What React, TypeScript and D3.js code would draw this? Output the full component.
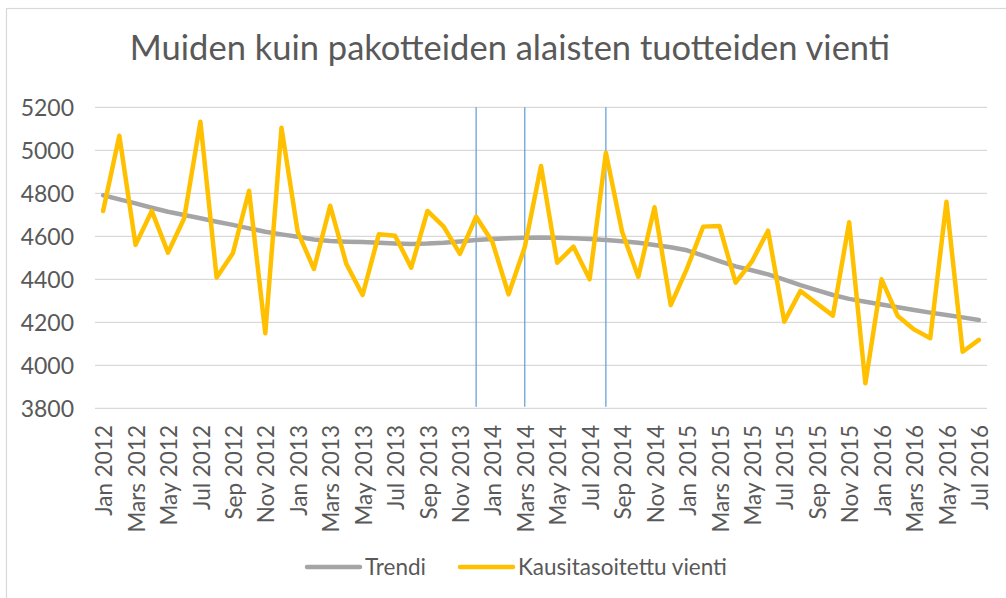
import React from "react";
import * as d3 from "d3";

const TITLE = "Muiden kuin pakotteiden alaisten tuotteiden vienti";

// 55 months Jan 2012 .. Jul 2016
const months: Date[] = d3.timeMonth.range(new Date(2012, 0, 1), new Date(2016, 7, 1));
const categories: string[] = months.map((d) => d3.timeFormat("%Y-%m")(d));

const tickLabels: string[] = [
  "Jan 2012", "Mars 2012", "May 2012", "Jul 2012", "Sep 2012", "Nov 2012",
  "Jan 2013", "Mars 2013", "May 2013", "Jul 2013", "Sep 2013", "Nov 2013",
  "Jan 2014", "Mars 2014", "May 2014", "Jul 2014", "Sep 2014", "Nov 2014",
  "Jan 2015", "Mars 2015", "May 2015", "Jul 2015", "Sep 2015", "Nov 2015",
  "Jan 2016", "Mars 2016", "May 2016", "Jul 2016",
];

const trendi: number[] = [
  4791, 4772, 4753, 4733, 4714, 4699, 4684, 4668, 4653, 4637,
  4621, 4609, 4598, 4585, 4578, 4575, 4573, 4570, 4566, 4564,
  4566, 4570, 4576, 4583, 4587, 4591, 4593, 4594, 4593, 4591,
  4587, 4583, 4577, 4570, 4560, 4549, 4535, 4510, 4485, 4460,
  4442, 4423, 4398, 4373, 4350, 4327, 4309, 4296, 4283, 4270,
  4257, 4245, 4234, 4223, 4211,
];

const kausitasoitettu: number[] = [
  4718, 5068, 4560, 4718, 4524, 4684, 5133, 4408, 4521, 4812,
  4149, 5105, 4621, 4448, 4742, 4471, 4327, 4609, 4603, 4454,
  4718, 4645, 4518, 4691, 4575, 4330, 4550, 4927, 4477, 4552,
  4400, 4989, 4621, 4412, 4735, 4280, 4450, 4645, 4648, 4384,
  4482, 4626, 4203, 4346, 4288, 4231, 4665, 3916, 4400, 4229,
  4167, 4126, 4761, 4063, 4118,
];

const yTicks: number[] = [3800, 4000, 4200, 4400, 4600, 4800, 5000, 5200];
const markerMonths: string[] = ["2013-12", "2014-03", "2014-08"];

const FONT = "Lato, 'Open Sans', sans-serif";
const TEXT = "#595959";

export default function App() {
  const W = 1006, H = 598;
  const left = 95, right = 987, top = 107.3, bottom = 408.3;
  const x = d3.scalePoint<string>().domain(categories).range([left, right]).padding(0.5);
  const y = d3.scaleLinear().domain([3800, 5200]).range([bottom, top]);

  const line = d3.line<number>()
    .x((_, i) => x(categories[i]) as number)
    .y((d) => y(d));

  const tickCats = categories.filter((_, i) => i % 2 === 0);

  return (
    <svg width={W} height={H} style={{ position: "absolute", left: 0, top: 0, background: "#fff" }}>
      <rect x={6.5} y={8.5} width={1100} height={700} fill="#fff" stroke="#D9D9D9" strokeWidth={1.2} />
      <text x={510} y={60} textAnchor="middle" fontFamily={FONT} fontSize={34.5} fill={TEXT}>{TITLE}</text>

      {yTicks.map((t) => (
        <g key={t}>
          <line x1={left} x2={right} y1={y(t)} y2={y(t)} stroke="#D9D9D9" strokeWidth={1.3} />
          <text x={74} y={y(t)} dy="0.36em" textAnchor="end" fontFamily={FONT} fontSize={23} fill={TEXT}>{t}</text>
        </g>
      ))}

      {tickCats.map((c, i) => (
        <text key={c}
          transform={`translate(${(x(c) as number) + 1},${425}) rotate(-90)`}
          dy="0.36em" textAnchor="end" fontFamily={FONT} fontSize={22.5} fill={TEXT}>{tickLabels[i]}</text>
      ))}

      {markerMonths.map((m) => (
        <line key={m} x1={x(m) as number} x2={x(m) as number} y1={top} y2={bottom - 1.5}
          stroke="#5B9BD5" strokeWidth={1.2} />
      ))}

      <path d={line(trendi) || ""} fill="none" stroke="#A5A5A5" strokeWidth={4.5} strokeLinejoin="round" strokeLinecap="round" />
      <path d={line(kausitasoitettu) || ""} fill="none" stroke="#FFC000" strokeWidth={4.5} strokeLinejoin="round" strokeLinecap="round" />

      <g fontFamily={FONT} fontSize={22.5} fill={TEXT}>
        <line x1={307} x2={360} y1={567} y2={567} stroke="#A5A5A5" strokeWidth={4.5} strokeLinecap="round" />
        <text x={365} y={567} dy="0.36em">Trendi</text>
        <line x1={460} x2={513} y1={567} y2={567} stroke="#FFC000" strokeWidth={4.5} strokeLinecap="round" />
        <text x={518} y={567} dy="0.36em">Kausitasoitettu vienti</text>
      </g>
    </svg>
  );
}
